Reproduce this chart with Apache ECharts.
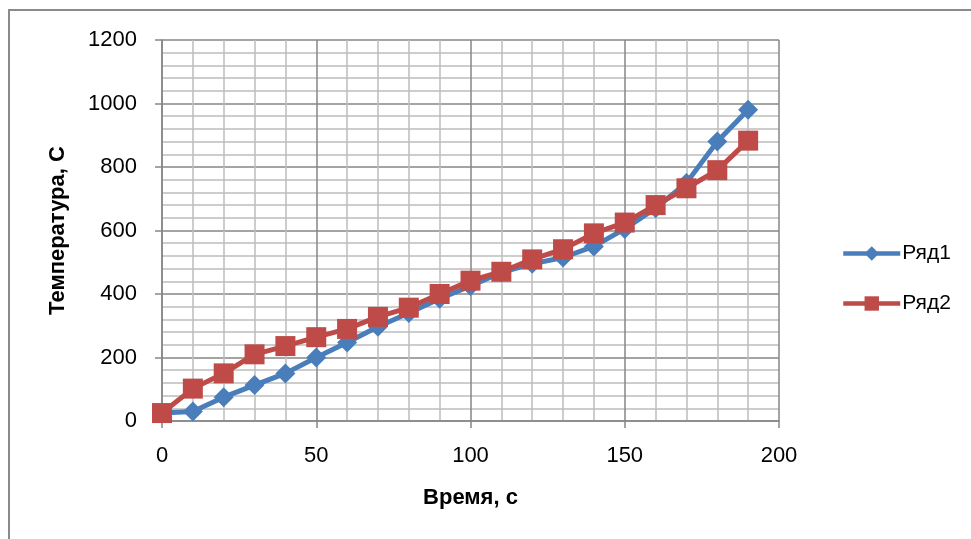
<!DOCTYPE html>
<html><head><meta charset="utf-8">
<script src="https://cdn.jsdelivr.net/npm/echarts@6/dist/echarts.min.js"></script>
<style>html,body{margin:0;padding:0;background:#fff}#c{width:971px;height:539px}</style>
</head><body><div id="c"></div>
<script>
const times = [0,10,20,30,40,50,60,70,80,90,100,110,120,130,140,150,160,170,180,190];
const series1 = [25,30,75,113,150,200,247,297,340,385,425,468,495,515,550,605,670,750,880,980];
const series2 = [25,102,150,210,236,264,290,328,357,400,442,470,509,541,591,625,680,733,790,883];
const seriesNames = ['Ряд1','Ряд2'];
const xTitle = 'Время, с';
const yTitle = 'Температура, С';

const font = "'Liberation Sans', Arial, sans-serif";
const chart = echarts.init(document.getElementById('c'), null, {renderer:'canvas'});
const pair = (xs, ys) => xs.map((x,i)=>[x, ys[i]]);
chart.setOption({
  animation:false,
  backgroundColor:'#fff',
  graphic:[
    {type:'line', shape:{x1:8, y1:10, x2:971, y2:10}, style:{stroke:'#8a8a8a', lineWidth:2}, z:-10},
    {type:'line', shape:{x1:9, y1:10, x2:9, y2:539}, style:{stroke:'#8a8a8a', lineWidth:2}, z:-10}
  ],
  grid:{left:162, right:192, top:40, bottom:118},
  legend:{
    orient:'vertical', left:836, top:238, itemGap:29, itemWidth:57, itemHeight:18,
    textStyle:{fontFamily:font, fontSize:21, color:'#000', padding:[0,0,0,-3]},
    lineStyle:{width:4.5},
    data:seriesNames
  },
  xAxis:{
    type:'value', min:0, max:200, interval:50,
    name:xTitle, nameLocation:'middle', nameGap:66,
    nameTextStyle:{fontFamily:font, fontSize:22, fontWeight:'bold', color:'#000'},
    axisLine:{show:true, lineStyle:{color:'#868686', width:1.5}},
    axisTick:{show:true, length:7, lineStyle:{color:'#868686', width:1.5}},
    axisLabel:{fontFamily:font, fontSize:22, color:'#000', margin:24},
    splitLine:{show:true, lineStyle:{color:'#868686', width:1.5}},
    minorTick:{show:false, splitNumber:5},
    minorSplitLine:{show:true, lineStyle:{color:'#bdbdbd', width:1.5}}
  },
  yAxis:{
    type:'value', min:0, max:1200, interval:200,
    name:yTitle, nameLocation:'middle', nameGap:93, nameRotate:90,
    nameTextStyle:{fontFamily:font, fontSize:22, fontWeight:'bold', color:'#000'},
    axisLine:{show:true, lineStyle:{color:'#868686', width:1.5}},
    axisTick:{show:true, length:7, lineStyle:{color:'#868686', width:1.5}},
    axisLabel:{fontFamily:font, fontSize:22, color:'#000', margin:25, formatter:v=>String(v)},
    splitLine:{show:true, lineStyle:{color:'#868686', width:1.5}},
    minorTick:{show:false, splitNumber:5},
    minorSplitLine:{show:true, lineStyle:{color:'#bdbdbd', width:1.5}}
  },
  series:[
    {name:seriesNames[0], type:'line', data:pair(times, series1), symbol:'diamond', symbolSize:20,
     lineStyle:{color:'#4a7ebb', width:5}, itemStyle:{color:'#4a7ebb'}, z:2},
    {name:seriesNames[1], type:'line', data:pair(times, series2), symbol:'rect', symbolSize:20,
     lineStyle:{color:'#be4b48', width:5}, itemStyle:{color:'#be4b48'}, z:3}
  ]
});
</script></body></html>
